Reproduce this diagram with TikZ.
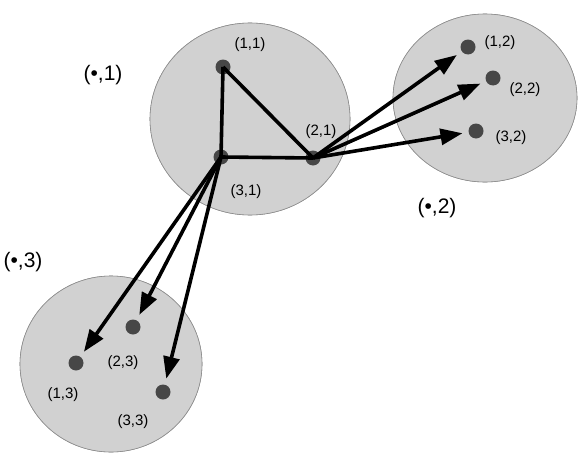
\documentclass[tikz,border=0pt]{standalone}
\usepackage{fontspec}
\setmainfont{Liberation Sans}
\usetikzlibrary{arrows.meta}
\tikzset{
  group/.style={fill=black!18, draw=black!45, line width=0.6pt},
  dot/.style={circle, fill=black!72, inner sep=0pt, minimum size=15pt},
  lbl/.style={font=\fontsize{15pt}{17pt}\selectfont, inner sep=0pt},
  glbl/.style={font=\fontsize{21pt}{24pt}\selectfont, inner sep=0pt},
  edge/.style={line width=3.6pt},
  arr/.style={line width=3.6pt, -{Triangle[length=22pt,width=16pt]}, shorten >=6pt},
}
\begin{document}
\begin{tikzpicture}[x=1pt,y=-1pt]
\useasboundingbox (0,0) rectangle (581,455);
\fill[group] (250,119) ellipse [x radius=100, y radius=96];
\fill[group] (485,98) ellipse [x radius=92, y radius=84];
\fill[group] (111,364) ellipse [x radius=91, y radius=88];
\draw[group] (250,119) ellipse [x radius=100, y radius=96];
\draw[group] (485,98) ellipse [x radius=92, y radius=84];
\draw[group] (111,364) ellipse [x radius=91, y radius=88];

\node[dot] (a11) at (223,67) {};
\node[dot] (a21) at (313,158) {};
\node[dot] (a31) at (221,157) {};
\node[dot] (a12) at (468,47) {};
\node[dot] (a22) at (493,78) {};
\node[dot] (a32) at (476,131) {};
\node[dot] (a13) at (76,363) {};
\node[dot] (a23) at (133,327) {};
\node[dot] (a33) at (163,392) {};

\node[lbl] (l11) at (250,45) {(1,1)};
\node[lbl] (l21) at (321,132) {(2,1)};
\node[lbl] (l31) at (246,192) {(3,1)};
\node[lbl] (l12) at (500,43) {(1,2)};
\node[lbl] (l22) at (525,90) {(2,2)};
\node[lbl] (l32) at (511,138) {(3,2)};
\node[lbl] (l13) at (63,395) {(1,3)};
\node[lbl] (l23) at (123,363) {(2,3)};
\node[lbl] (l33) at (133,422) {(3,3)};

\node[glbl] (g1) at (103,75) {(•,1)};
\node[glbl] (g2) at (437,208) {(•,2)};
\node[glbl] (g3) at (23,262) {(•,3)};

\draw[edge] (a11.center) -- (a31.center);
\draw[edge] (a11.center) -- (a21.center);
\draw[edge] (a31.center) -- (a21.center);

\draw[arr] (a21.center) -- (a12);
\draw[arr] (a21.center) -- (a22);
\draw[arr] (a21.center) -- (a32);
\draw[arr] (a31.center) -- (a13);
\draw[arr] (a31.center) -- (a23);
\draw[arr] (a31.center) -- (a33);
\end{tikzpicture}
\end{document}
